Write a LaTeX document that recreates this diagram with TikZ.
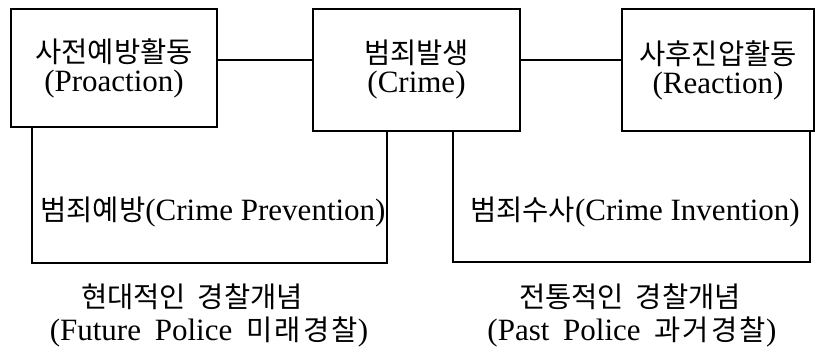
\documentclass[tikz,border=0pt]{standalone}
\usepackage{fontspec}
\setmainfont{Liberation Serif}
\newfontfamily\korfont[Scale=0.92]{Noto Sans CJK KR}
\newfontfamily\korwide[Scale=0.92,LetterSpace=8]{Noto Sans CJK KR}
\newcommand{\kor}[1]{{\korfont #1}}
\newcommand{\korw}[1]{{\korwide #1}}
\usetikzlibrary{positioning,calc}

\begin{document}
\begin{tikzpicture}[x=0.5pt,y=-0.5pt,
            every node/.style={font=\fontsize{15.5}{14.5}\selectfont},
            stage/.style={rectangle,draw=black,line width=1pt,align=center,inner sep=0pt,minimum height=61pt},
            link/.style={draw=black,line width=0.8pt},
            bracket/.style={draw=black,line width=1pt},
            note/.style={align=center,inner sep=0pt}]
            \useasboundingbox (0,0) rectangle (815,349);

            % three stages
            \node (pro)[stage,minimum width=103pt,minimum height=59pt] at (114,68) {\kor{사전예방활동}\\(Proaction)};
            \node (crime)[stage,minimum width=103.5pt] at (416.5,70) {\kor{범죄발생}\\(Crime)};
            \node (rea)[stage,minimum width=96pt] at (718,70) {\kor{사후진압활동}\\(Reaction)};

            \draw[link] ([yshift=4pt]pro.east) -- ([yshift=4pt]pro.east -| crime.west);
            \draw[link] ([yshift=5pt]crime.east) -- ([yshift=5pt]crime.east -| rea.west);

            % brackets
            \coordinate (pl) at (32,263);
            \coordinate (pr) at (387,263);
            \coordinate (rl) at (453,262);
            \coordinate (rr) at (810,262);
            \draw[bracket] (pro.south -| pl) -- (pl) -- (pr) -- (crime.south -| pr);
            \draw[bracket] (crime.south -| rl) -- (rl) -- (rr) -- (rea.south -| rr);

            \node (prev)[note] at (213,212) {\kor{범죄예방}(Crime Prevention)};
            \node (inv)[note] at (635,212) {\kor{범죄수사}(Crime Invention)};

            % police concepts
            \node (modern)[note] at (192,297) {\kor{현대적인}\hspace{6pt}\kor{경찰개념}};
            \node (future)[note] at (209,332) {(Future\hspace{3pt} Police\hspace{3pt} \korw{미래경찰})};
            \node (trad)[note] at (630,297) {\kor{전통적인}\hspace{6pt}\kor{경찰개념}};
            \node (past)[note] at (632,332) {(Past\hspace{3pt} Police\hspace{3pt} \korw{과거경찰})};
\end{tikzpicture}
\end{document}
